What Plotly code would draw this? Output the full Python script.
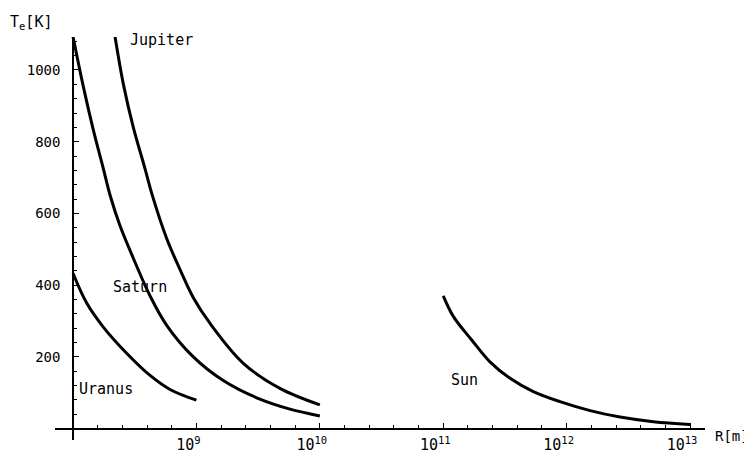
import plotly.graph_objects as go

# ---- data ----
R_jupiter = [2.19e8, 2.56e8, 3.08e8, 3.83e8, 4.35e8, 5.74e8, 7.60e8, 9.44e8, 1.29e9, 2.40e9, 4.75e9, 1.0e10]
T_jupiter = [1093, 960, 840, 725, 655, 530, 433, 365, 293, 182, 112, 66]

R_saturn = [1.0e8, 1.21e8, 1.46e8, 1.76e8, 2.0e8, 2.40e8, 3.08e8, 4.21e8, 5.74e8, 9.44e8, 1.65e9, 3.27e9, 5.73e9, 1.0e10]
T_saturn = [1093, 955, 833, 725, 650, 566, 475, 370, 288, 200, 134, 82, 54, 35]

R_uranus = [1.0e8, 1.29e8, 1.76e8, 2.72e8, 4.21e8, 6.11e8, 1.0e9]
T_uranus = [433, 350, 283, 210, 148, 109, 79]

R_sun = [1.0e11, 1.21e11, 1.70e11, 2.39e11, 3.48e11, 5.37e11, 8.83e11, 1.55e12, 2.71e12, 5.05e12, 1.0e13]
T_sun = [370, 312, 247, 186, 140, 103, 75, 50, 32, 19, 11]

x_tickvals = [1e9, 1e10, 1e11, 1e12, 1e13]
x_ticktext = ["10<sup>9</sup>", "10<sup>10</sup>", "10<sup>11</sup>", "10<sup>12</sup>", "10<sup>13</sup>"]
y_tickvals = [200, 400, 600, 800, 1000]
y_ticktext = ["200", "400", "600", "800", "1000"]

# curve labels: (text, log10 R, T)
labels = [("Jupiter", 8.713, 1085), ("Saturn", 8.540, 395),
          ("Uranus", 8.270, 110), ("Sun", 11.176, 135)]

FONT = "DejaVu Sans Mono"

fig = go.Figure()
for R, T in [(R_jupiter, T_jupiter), (R_saturn, T_saturn), (R_uranus, T_uranus), (R_sun, T_sun)]:
    fig.add_trace(go.Scatter(x=R, y=T, mode="lines",
                             line=dict(color="black", width=3, shape="spline", smoothing=1.0),
                             showlegend=False, hoverinfo="skip"))

for text, lx, y in labels:
    fig.add_annotation(x=lx, y=y, text=text, showarrow=False, xref="x", yref="y",
                       font=dict(family=FONT, size=15, color="black"))

fig.add_annotation(xref="paper", yref="paper", x=-0.073, y=1.008, xanchor="left", yanchor="bottom",
                   text="T<sub>e</sub>[K]", showarrow=False, font=dict(family=FONT, size=15, color="black"))
fig.add_annotation(xref="paper", yref="paper", x=1.013, y=0.01, xanchor="left", yanchor="middle",
                   text="R[m]", showarrow=False, font=dict(family=FONT, size=14, color="black"))

# the page body adds an 8 px margin, so the figure is 8 px smaller on each axis
fig.update_layout(
    width=744, height=460,
    margin=dict(l=47, r=47, t=29, b=28, autoexpand=False),
    plot_bgcolor="white", paper_bgcolor="white",
    font=dict(family=FONT, size=14, color="black"),
    xaxis=dict(type="log", range=[7.854, 13.121], showgrid=False, zeroline=False,
               showline=True, linecolor="black", linewidth=1.5,
               anchor="free", position=0.0285, automargin=False,
               tickmode="array", tickvals=x_tickvals, ticktext=x_ticktext,
               ticks="inside", ticklen=5, tickcolor="black", tickwidth=1,
               ticklabelshift=-8, ticklabelstandoff=3,
               tickfont=dict(family=FONT, size=15, color="black"),
               minor=dict(tickmode="linear", tick0=0, dtick=0.2, ticks="inside",
                          ticklen=3, tickcolor="black", showgrid=False)),
    yaxis=dict(range=[-32, 1092], showgrid=False, zeroline=False,
               showline=True, linecolor="black", linewidth=1.5,
               anchor="free", position=0.0277, automargin=False,
               tickmode="array", tickvals=y_tickvals, ticktext=y_ticktext,
               ticks="inside", ticklen=5, tickcolor="black", tickwidth=1,
               ticklabelstandoff=9,
               tickfont=dict(family=FONT, size=14, color="black"),
               minor=dict(tickmode="linear", tick0=0, dtick=40, ticks="inside",
                          ticklen=3, tickcolor="black", showgrid=False)),
)

fig.write_html("out.html")
